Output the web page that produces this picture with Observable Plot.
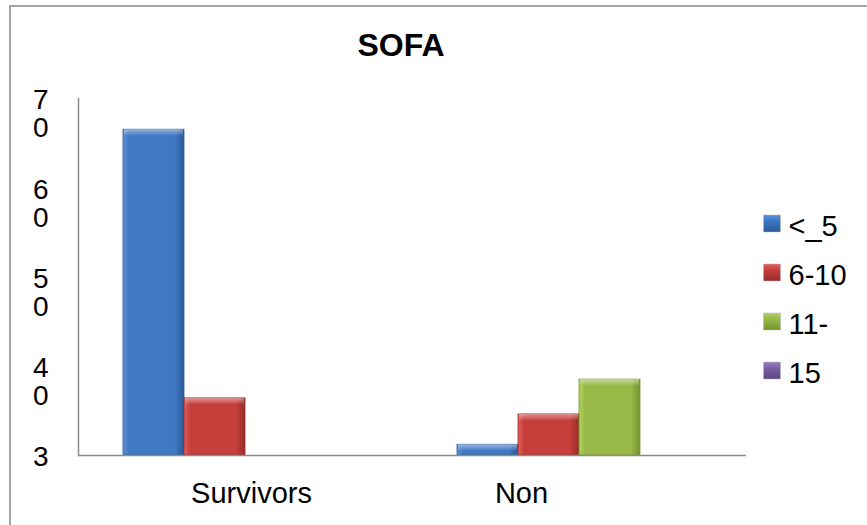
<!DOCTYPE html>
<html><head><meta charset="utf-8">
<script src="https://cdn.jsdelivr.net/npm/d3@7"></script>
<script src="https://cdn.jsdelivr.net/npm/@observablehq/plot@0.6"></script>
<style>
html,body{margin:0;padding:0;background:#fff;overflow:hidden;}
#wrap{position:relative;width:867px;height:525px;overflow:hidden;font-family:"Liberation Sans",Arial,sans-serif;}
#border{position:absolute;left:9px;top:5px;width:900px;height:600px;border:2px solid #a6a6a6;box-sizing:border-box;}
#chart{position:absolute;left:0;top:0;}
#legend{position:absolute;left:755px;top:200px;}
#title{position:absolute;left:0;top:29px;width:802px;text-align:center;font-size:32px;line-height:32px;font-weight:bold;color:#000;}
</style></head><body>
<div id="wrap"><div id="border"></div><div id="chart"></div><div id="legend"></div><div id="title"></div></div>
<script>
const title = "SOFA";
const categories = ["Survivors", "Non"];
const series = ["<_5", "6-10", "11-", "15"];
const survivorsValues = [66.5, 36.4, null, null];
const nonValues = [31.2, 34.6, 38.5, null];
const yDomain = [30, 70];
const yTicks = [30, 40, 50, 60, 70];
const yTickLabels = ["3", "4\n0", "5\n0", "6\n0", "7\n0"];
const seriesColors = [
  {light: "#5b93dc", base: "#3f78c3", dark: "#2c5a99"},
  {light: "#e0605b", base: "#c63f3b", dark: "#962c29"},
  {light: "#b3d35e", base: "#98b948", dark: "#76932f"},
  {light: "#9a80c2", base: "#7b61a5", dark: "#5a4580"}
];

const valuesByCategory = {Survivors: survivorsValues, Non: nonValues};
const data = categories.flatMap(c => series.map((s, j) => ({category: c, series: s, value: valuesByCategory[c][j]})))
  .filter(d => d.value != null);

document.getElementById("title").textContent = title;

const font = '"Liberation Sans", Arial, sans-serif';
const xLabel = (cat, dx) => Plot.text([cat], {fx: d => d, text: d => d, frameAnchor: "bottom", lineAnchor: "top",
  dy: 27, dx, fontSize: 29, fill: "#000"});

const chart = Plot.plot({
  width: 867, height: 525,
  marginLeft: 77, marginRight: 121, marginTop: 98, marginBottom: 70,
  style: {fontFamily: font, fontSize: "28px", color: "#000", background: "transparent", overflow: "visible"},
  fx: {domain: categories, padding: 0, axis: null},
  x: {domain: series, paddingInner: 0, paddingOuter: 0.714, axis: null},
  y: {domain: yDomain, axis: null},
  color: {type: "identity"},
  marks: [
    Plot.barY(data, {fx: "category", x: "series", y1: () => yDomain[0], y2: "value",
      fill: d => `url(#gh${series.indexOf(d.series)})`, stroke: d => seriesColors[series.indexOf(d.series)].dark, strokeWidth: 0.8}),
    Plot.barY(data, {fx: "category", x: "series", y1: "value", y2: "value", insetBottom: -6, insetLeft: 1, insetRight: 1,
      fill: "url(#bevel)"}),
    Plot.ruleY([yDomain[0]], {stroke: "#8c8c8c", strokeWidth: 1.5}),
    Plot.axisY(yTicks, {anchor: "left", tickSize: 0, tickPadding: 30, fontSize: 28, lineAnchor: "top", dy: -9,
      tickFormat: d => yTickLabels[yTicks.indexOf(d)], label: null}),
    xLabel(categories[0], 6),
    xLabel(categories[1], -58),
    Plot.frame({anchor: "left", stroke: "#8c8c8c", strokeWidth: 1.5, facet: "super"})
  ]
});

const svg = d3.select(chart);
const defs = svg.insert("defs", ":first-child");
seriesColors.forEach((c, i) => {
  const gh = defs.append("linearGradient").attr("id", `gh${i}`).attr("x1", 0).attr("x2", 1).attr("y1", 0).attr("y2", 0);
  gh.append("stop").attr("offset", "0%").attr("stop-color", c.light);
  gh.append("stop").attr("offset", "10%").attr("stop-color", c.base);
  gh.append("stop").attr("offset", "85%").attr("stop-color", c.base);
  gh.append("stop").attr("offset", "100%").attr("stop-color", c.dark);
  const gv = defs.append("linearGradient").attr("id", `gv${i}`).attr("x1", 0).attr("x2", 0).attr("y1", 0).attr("y2", 1);
  gv.append("stop").attr("offset", "0%").attr("stop-color", c.light);
  gv.append("stop").attr("offset", "35%").attr("stop-color", c.base);
  gv.append("stop").attr("offset", "100%").attr("stop-color", c.dark);
});
const bv = defs.append("linearGradient").attr("id", "bevel").attr("x1", 0).attr("x2", 0).attr("y1", 0).attr("y2", 1);
bv.append("stop").attr("offset", "0%").attr("stop-color", "#fff").attr("stop-opacity", 0.45);
bv.append("stop").attr("offset", "100%").attr("stop-color", "#fff").attr("stop-opacity", 0.05);

document.getElementById("chart").append(chart);

const legend = Plot.plot({
  width: 110, height: 200, margin: 0,
  style: {fontFamily: font, fontSize: "29px", color: "#000", background: "transparent", overflow: "visible"},
  y: {type: "point", domain: series, range: [23, 170], padding: 0, axis: null},
  color: {type: "identity"},
  marks: [
    Plot.dot(series, {y: d => d, frameAnchor: "left", dx: 16.5, symbol: "square", r: 9.6,
      fill: (d, i) => `url(#gv${i})`, stroke: "#bbb", strokeWidth: 0.5}),
    Plot.text(series, {y: d => d, text: d => d, frameAnchor: "left", dx: 33, dy: 3, textAnchor: "start", fontSize: 29, fill: "#000"})
  ]
});
document.getElementById("legend").append(legend);
</script>
</body></html>
